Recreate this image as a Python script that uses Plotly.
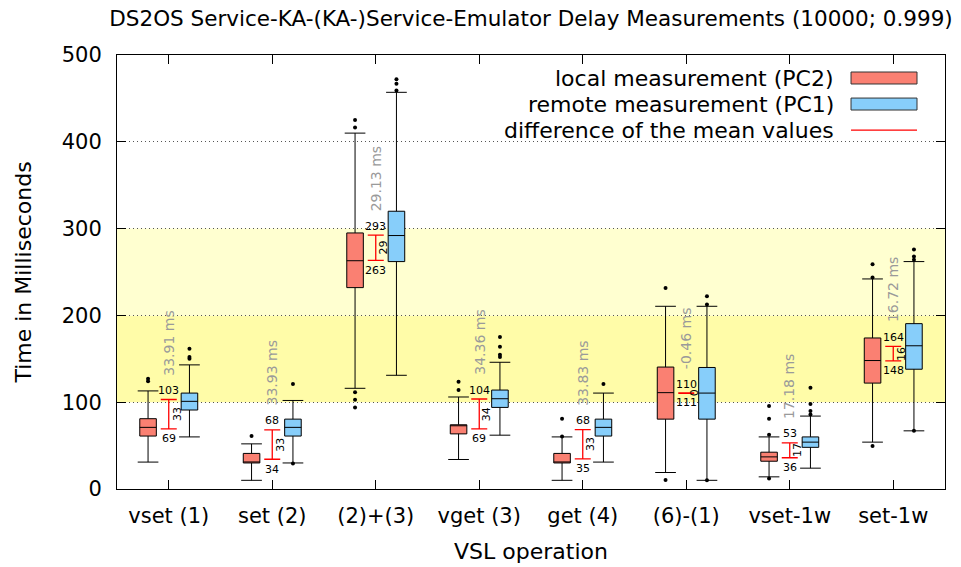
import plotly.graph_objects as go

# VSL operations measured
categories = ["vset (1)", "set (2)", "(2)+(3)", "vget (3)", "get (4)", "(6)-(1)", "vset-1w", "set-1w"]

# Local measurement (PC2): box statistics in ms
local_low = [31, 10, 116, 34, 10, 19, 14, 54]
local_q1 = [61, 30, 232, 63.5, 30, 80.5, 32, 122]
local_med = [71, 31, 263, 73.5, 31, 111, 37, 148]
local_q3 = [81, 41, 295, 74, 41, 140.5, 42.4, 174]
local_high = [113, 52, 410, 106, 60, 210.5, 60, 242]
local_out = [[124, 127], [61], [94, 102.8, 111.6, 416.5, 425], [114, 123.6], [60.5, 80.8],
             [10.4, 231.7], [12, 62.4, 80.8, 95.5], [49.6, 243.6, 259]]
local_mean = [69.20, 34.30, 263.40, 69.30, 34.60, 110.70, 36.00, 147.60]

# Remote measurement (PC1): box statistics in ms
remote_low = [60, 30, 131, 62, 31, 10, 24, 67]
remote_q1 = [91, 61, 262, 94, 61, 80.5, 48, 138]
remote_med = [101, 71, 292, 104, 71, 110.5, 54, 165]
remote_q3 = [110.5, 80.5, 320, 114, 80.5, 140, 60, 190.5]
remote_high = [143, 102, 457, 146, 110.5, 210.5, 84, 262]
remote_out = [[150, 152, 161.7], [29.5, 121], [459, 467, 472], [152, 154.7, 164, 175], [121],
              [10, 212.5, 222], [85.8, 90, 98, 116.6], [67, 264, 268, 276]]
remote_mean = [103.11, 68.23, 292.53, 103.66, 68.43, 110.24, 53.18, 164.32]

LOCAL_COLOR = "#fa8072"
REMOTE_COLOR = "#87cefa"
FONT = "DejaVu Sans"

OFFSET = 0.2      # box offset from the category centre
BOX_W = 0.16      # box width in axis units
CAP_HALF = 0.1    # half width of the whisker caps

pos = list(range(1, len(categories) + 1))

fig = go.Figure()


def add_series(name, color, sign, low, q1, med, q3, high, outs):
    xs = [p + sign * OFFSET for p in pos]
    fig.add_trace(go.Box(
        x=xs, q1=q1, median=med, q3=q3, lowerfence=low, upperfence=high,
        width=BOX_W, whiskerwidth=0, fillcolor=color,
        line=dict(color="#000000", width=1), boxpoints=False,
        name=name, showlegend=False, hoverinfo="skip",
    ))
    # whisker caps
    cx, cy = [], []
    for x, lo, hi in zip(xs, low, high):
        for v in (lo, hi):
            cx += [x - CAP_HALF, x + CAP_HALF, None]
            cy += [v, v, None]
    fig.add_trace(go.Scatter(x=cx, y=cy, mode="lines", line=dict(color="#000000", width=1),
                             showlegend=False, hoverinfo="skip"))
    # outliers
    ox, oy = [], []
    for x, vals in zip(xs, outs):
        ox += [x] * len(vals)
        oy += vals
    fig.add_trace(go.Scatter(x=ox, y=oy, mode="markers",
                             marker=dict(color="#000000", size=4),
                             showlegend=False, hoverinfo="skip"))


add_series("local measurement (PC2)", LOCAL_COLOR, -1,
           local_low, local_q1, local_med, local_q3, local_high, local_out)
add_series("remote measurement (PC1)", REMOTE_COLOR, 1,
           remote_low, remote_q1, remote_med, remote_q3, remote_high, remote_out)

# difference of the mean values as red bars between the two boxes
diffs = [r - l for l, r in zip(local_mean, remote_mean)]
mids = [(l + r) / 2 for l, r in zip(local_mean, remote_mean)]
fig.add_trace(go.Scatter(
    x=pos, y=mids, mode="markers",
    marker=dict(size=1, color="rgba(0,0,0,0)"),
    error_y=dict(type="data", symmetric=True, array=[abs(d) / 2 for d in diffs],
                 color="#ff0000", thickness=1.3, width=8),
    showlegend=False, hoverinfo="skip",
))

annotations = []
for p, l, r, d, m in zip(pos, local_mean, remote_mean, diffs, mids):
    annotations.append(dict(x=p, y=r, text=f"{r:.0f}", showarrow=False, yshift=9,
                            font=dict(family=FONT, size=11, color="#000000")))
    annotations.append(dict(x=p, y=l, text=f"{l:.0f}", showarrow=False, yshift=-10,
                            font=dict(family=FONT, size=11, color="#000000")))
    annotations.append(dict(x=p, y=m, text=f"{int(d)}", showarrow=False, xshift=8,
                            textangle=-90, font=dict(family=FONT, size=11, color="#000000")))
    annotations.append(dict(x=p, y=max(l, r), text=f"{d:.2f} ms", showarrow=False,
                            yanchor="bottom", yshift=22, textangle=-90,
                            font=dict(family=FONT, size=14, color="#9a9a9a")))

# legend drawn in the gnuplot style: text on the left, sample on the right
legend_rows = [("local measurement (PC2)", 0.947), ("remote measurement (PC1)", 0.887),
               ("difference of the mean values", 0.827)]
for text, yy in legend_rows:
    annotations.append(dict(xref="paper", yref="paper", x=0.8684, y=yy, text=text,
                            showarrow=False, xanchor="right", yanchor="middle",
                            font=dict(family=FONT, size=22, color="#000000")))

shapes = [
    dict(type="rect", xref="paper", yref="y", x0=0, x1=1, y0=100, y1=200,
         fillcolor="#fffca8", line=dict(width=0), layer="below"),
    dict(type="rect", xref="paper", yref="y", x0=0, x1=1, y0=200, y1=300,
         fillcolor="#ffffd0", line=dict(width=0), layer="below"),
    dict(type="rect", xref="paper", yref="paper", x0=0.8865, x1=0.9662, y0=0.947 - 0.0138,
         y1=0.947 + 0.0138, fillcolor=LOCAL_COLOR, line=dict(color="#333333", width=1)),
    dict(type="rect", xref="paper", yref="paper", x0=0.8865, x1=0.9662, y0=0.887 - 0.0138,
         y1=0.887 + 0.0138, fillcolor=REMOTE_COLOR, line=dict(color="#333333", width=1)),
    dict(type="line", xref="paper", yref="paper", x0=0.8865, x1=0.9662, y0=0.827, y1=0.827,
         line=dict(color="#ff0000", width=1.3)),
]

fig.update_layout(
    width=961, height=567,
    margin=dict(l=117, r=16, t=55, b=78, autoexpand=False),
    paper_bgcolor="#ffffff", plot_bgcolor="#ffffff",
    font=dict(family=FONT, size=21, color="#000000"),
    title=dict(text="DS2OS Service-KA-(KA-)Service-Emulator Delay Measurements (10000; 0.999)",
               x=0.5, xref="paper", xanchor="center", y=1 - 18 / 567, yanchor="middle",
               font=dict(family=FONT, size=21.5, color="#000000")),
    showlegend=False,
    annotations=annotations,
    shapes=shapes,
    xaxis=dict(
        range=[0.5, 8.5], tickvals=pos, ticktext=categories, automargin=False,
        ticks="inside", ticklen=9, tickcolor="#000000", mirror="allticks",
        showline=True, linecolor="#000000", linewidth=1, showgrid=False, zeroline=False,
        tickfont=dict(family=FONT, size=21), ticklabelstandoff=8,
        title=dict(text="VSL operation", font=dict(family=FONT, size=22), standoff=16),
    ),
    yaxis=dict(
        range=[0, 500], tickvals=[0, 100, 200, 300, 400, 500], automargin=False,
        ticks="inside", ticklen=9, tickcolor="#000000", mirror="allticks",
        showline=True, linecolor="#000000", linewidth=1,
        showgrid=True, gridcolor="#555555", griddash="1px,3px", gridwidth=1,
        zeroline=False, tickfont=dict(family=FONT, size=21), ticklabelstandoff=10,
        title=dict(text="Time in Milliseconds", font=dict(family=FONT, size=22), standoff=24),
    ),
)

fig.write_html("out.html")
